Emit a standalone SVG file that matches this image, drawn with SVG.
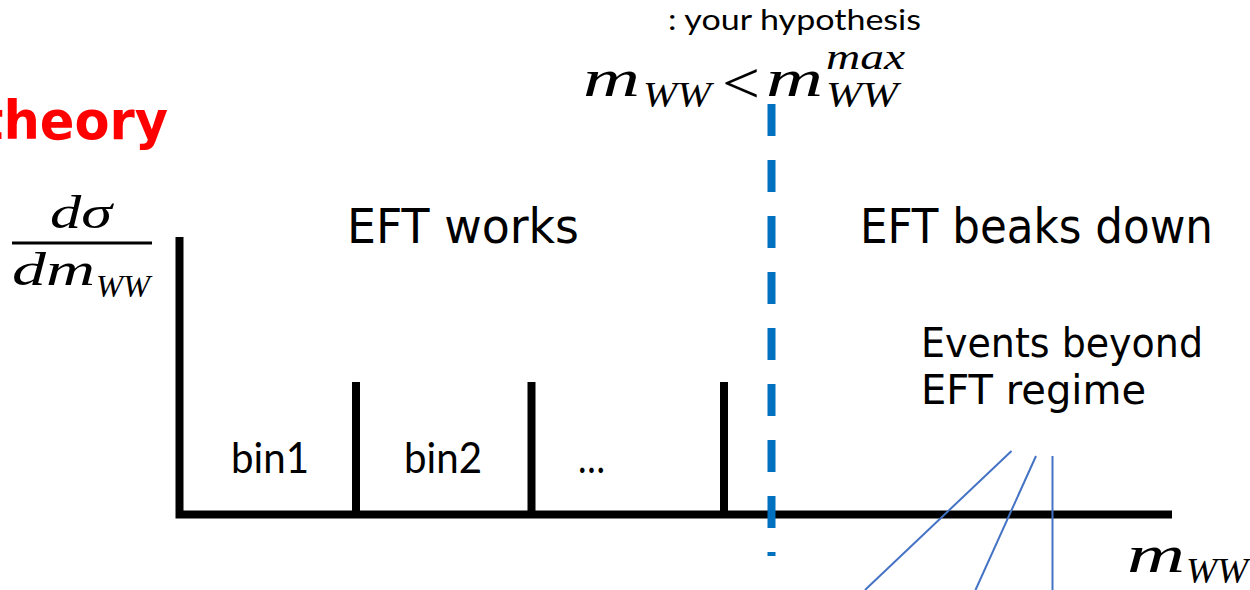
<svg xmlns="http://www.w3.org/2000/svg" width="1250" height="590" viewBox="0 0 1250 590">
<style>
.ax{stroke:#000;stroke-width:8;fill:none;stroke-linecap:butt}
.thin{stroke:#4472C4;stroke-width:2;fill:none}
.hand{font-family:"DejaVu Sans",sans-serif;fill:#000}
.cal{font-family:Lato,"Liberation Sans",sans-serif;fill:#000}
.mi{font-family:"Liberation Serif",serif;font-style:italic;fill:#000}
.mr{font-family:"Liberation Serif",serif;fill:#000}
</style>
<rect width="1250" height="590" fill="#fff"/>
<g id="theory">
<text x="-21" y="139" font-family="DejaVu Sans, sans-serif" font-weight="bold" font-size="54" fill="#ff0000" textLength="189" lengthAdjust="spacingAndGlyphs">theory</text>
</g>
<g id="y-label">
<text class="mi" x="50" y="228" font-size="46" textLength="62" lengthAdjust="spacingAndGlyphs">dσ</text>
<line x1="12" y1="243" x2="152" y2="243" stroke="#000" stroke-width="3"/>
<text class="mi" x="12" y="285" font-size="46" textLength="83" lengthAdjust="spacingAndGlyphs">dm</text>
<text class="mi" x="96" y="297" font-size="32" textLength="54" lengthAdjust="spacingAndGlyphs">WW</text>
</g>
<g id="axes">
<polyline class="ax" points="179.5,237 179.5,514.5 1172,514.5"/>
<line class="ax" x1="356" y1="382" x2="356" y2="514"/>
<line class="ax" x1="531.5" y1="382" x2="531.5" y2="514"/>
<line class="ax" x1="724" y1="382" x2="724" y2="514"/>
</g>
<g id="bins">
<text class="cal" x="231" y="473" font-size="43" textLength="78" lengthAdjust="spacingAndGlyphs">bin1</text>
<text class="cal" x="404" y="473" font-size="43" textLength="78" lengthAdjust="spacingAndGlyphs">bin2</text>
<text class="cal" x="578" y="473" font-size="43" textLength="27" lengthAdjust="spacingAndGlyphs">…</text>
</g>
<g id="hypothesis">
<text class="cal" x="668" y="30" font-size="28" textLength="253" lengthAdjust="spacingAndGlyphs">: your hypothesis</text>
<text class="mi" x="583" y="96" font-size="52" textLength="57" lengthAdjust="spacingAndGlyphs">m</text>
<text class="mi" x="643" y="107" font-size="36" textLength="68" lengthAdjust="spacingAndGlyphs">WW</text>
<text class="mr" x="722" y="103" font-size="60" textLength="38" lengthAdjust="spacingAndGlyphs">&lt;</text>
<text class="mi" x="766" y="96" font-size="52" textLength="57" lengthAdjust="spacingAndGlyphs">m</text>
<text class="mi" x="826" y="69" font-size="36" textLength="79" lengthAdjust="spacingAndGlyphs">max</text>
<text class="mi" x="826" y="107" font-size="36" textLength="72" lengthAdjust="spacingAndGlyphs">WW</text>
</g>
<g id="cutoff">
<line x1="771.5" y1="104" x2="771.5" y2="556" stroke="#0070C0" stroke-width="8" stroke-dasharray="32 24"/>
</g>
<g id="regions">
<text class="hand" x="347" y="243" font-size="48" textLength="232" lengthAdjust="spacingAndGlyphs">EFT works</text>
<text class="hand" x="860" y="243" font-size="48" textLength="353" lengthAdjust="spacingAndGlyphs">EFT beaks down</text>
<text class="hand" x="921" y="357" font-size="40" textLength="282" lengthAdjust="spacingAndGlyphs">Events beyond</text>
<text class="hand" x="921" y="404" font-size="40" textLength="225" lengthAdjust="spacingAndGlyphs">EFT regime</text>
</g>
<g id="connectors">
<line class="thin" x1="1011.5" y1="451" x2="865" y2="590"/>
<line class="thin" x1="1036" y1="456" x2="975.5" y2="590"/>
<line class="thin" x1="1052.5" y1="456" x2="1052.5" y2="590"/>
</g>
<g id="x-label">
<text class="mi" x="1127" y="572" font-size="52" textLength="58" lengthAdjust="spacingAndGlyphs">m</text>
<text class="mi" x="1186" y="583" font-size="36" textLength="62" lengthAdjust="spacingAndGlyphs">WW</text>
</g>
</svg>
